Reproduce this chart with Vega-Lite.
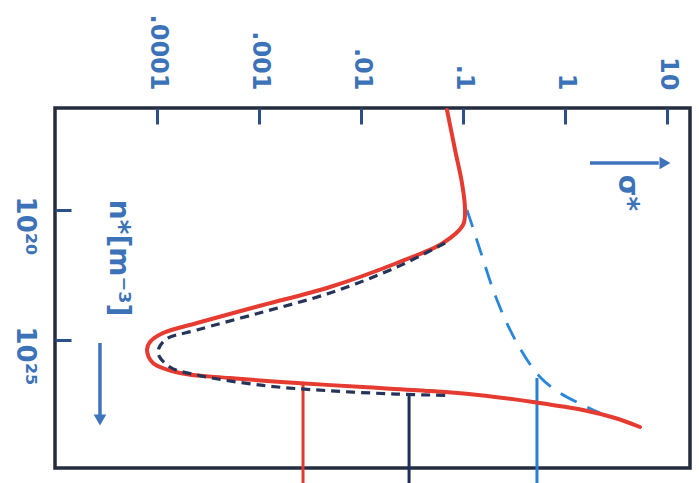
{
  "$schema": "https://vega.github.io/schema/vega-lite/v6.json",
  "width": 635,
  "height": 360,
  "autosize": "none",
  "padding": {"left": 55, "top": 108, "right": 9, "bottom": 15},
  "background": "#ffffff",
  "config": {
    "view": {"stroke": "#262c40", "strokeWidth": 3.5},
    "axis": {
      "domain": false, "grid": false, "title": null,
      "labelFont": "DejaVu Sans", "labelColor": "#3c72b8", "labelFontSize": 24, "labelFontWeight": "bold",
      "tickColor": "#2c4f8a", "tickWidth": 3, "tickSize": -16, "labelFlush": false, "labelOverlap": false
    }
  },
  "datasets": {
    "red": [
      {"i": 1, "s": 0.0697, "n": 1.426e16},
      {"i": 2, "s": 0.0836, "n": 4.92e17},
      {"i": 3, "s": 0.0977, "n": 9.16e18},
      {"i": 4, "s": 0.1047, "n": 1e20},
      {"i": 5, "s": 0.1, "n": 3.78e20},
      {"i": 6, "s": 0.0637, "n": 1.858e21},
      {"i": 7, "s": 0.02254, "n": 1.091e22},
      {"i": 8, "s": 0.004966, "n": 9.16e22},
      {"i": 9, "s": 0.001094, "n": 4.51e23},
      {"i": 10, "s": 0.0002466, "n": 2.218e24},
      {"i": 11, "s": 0.0001146, "n": 5.38e24},
      {"i": 12, "s": 0.0000853, "n": 1.194e25},
      {"i": 13, "s": 0.0000798, "n": 2.427e25},
      {"i": 14, "s": 0.0000914, "n": 7.67e25},
      {"i": 15, "s": 0.0001679, "n": 1.858e26},
      {"i": 16, "s": 0.00052, "n": 2.897e26},
      {"i": 17, "s": 0.00236, "n": 4.51e26},
      {"i": 18, "s": 0.01047, "n": 6.43e26},
      {"i": 19, "s": 0.04742, "n": 9.16e26},
      {"i": 20, "s": 0.1403, "n": 1.303e27},
      {"i": 21, "s": 0.4853, "n": 2.427e27},
      {"i": 22, "s": 1.5, "n": 4.92e27},
      {"i": 23, "s": 3.09, "n": 1e28},
      {"i": 24, "s": 5.43, "n": 2.218e28}
    ],
    "black": [
      {"i": 1, "s": 0.0667, "n": 1.858e21},
      {"i": 2, "s": 0.02254, "n": 1.556e22},
      {"i": 3, "s": 0.004966, "n": 1.556e23},
      {"i": 4, "s": 0.001094, "n": 8.38e23},
      {"i": 5, "s": 0.0002466, "n": 4.12e24},
      {"i": 6, "s": 0.0001197, "n": 1e25},
      {"i": 7, "s": 0.0001023, "n": 3.16e25},
      {"i": 8, "s": 0.0001339, "n": 1.091e26},
      {"i": 9, "s": 0.0002466, "n": 2.218e26},
      {"i": 10, "s": 0.001094, "n": 5.6e26},
      {"i": 11, "s": 0.004966, "n": 9.0e26},
      {"i": 12, "s": 0.02254, "n": 1.2e27},
      {"i": 13, "s": 0.0697, "n": 1.35e27}
    ],
    "blue": [
      {"i": 1, "s": 0.1094, "n": 1e20},
      {"i": 2, "s": 0.1225, "n": 3.78e20},
      {"i": 3, "s": 0.1469, "n": 3.45e21},
      {"i": 4, "s": 0.2153, "n": 2.897e23},
      {"i": 5, "s": 0.338, "n": 1.303e25},
      {"i": 6, "s": 0.5689, "n": 2.649e26},
      {"i": 7, "s": 0.893, "n": 1.091e27},
      {"i": 8, "s": 1.644, "n": 3.776e27},
      {"i": 9, "s": 2.203, "n": 6.43e27}
    ],
    "verticals": [
      {"series": "red", "s": 0.0027, "n": 4.51e26, "n2": 3.16e30},
      {"series": "navy", "s": 0.02958, "n": 1.303e27, "n2": 3.16e30},
      {"series": "blue", "s": 0.531, "n": 2.897e26, "n2": 3.16e30}
    ],
    "labels": [
      {"s": 0.0000415, "n": 7.02e21, "t": "n*[m⁻³]"},
      {"s": 4.05, "n": 2.218e19, "t": "σ*"}
    ],
    "ylabels": [
      {"s": 0.0000068, "n": 1e20, "t": "10²⁰"},
      {"s": 0.0000068, "n": 1e25, "t": "10²⁵"}
    ],
    "arrows": [
      {"s": 0.0000276, "n": 1.303e25, "s2": 0.0000276, "n2": 1.0e28},
      {"s": 1.758, "n": 1.556e18, "s2": 8.3, "n2": 1.556e18}
    ],
    "heads": [
      {"dir": "down", "s": 0.0000276, "n": 1.194e28},
      {"dir": "right", "s": 9.55, "n": 1.556e18}
    ]
  },
  "encoding": {
    "x": {
      "field": "s", "type": "quantitative",
      "scale": {"type": "log", "domain": [0.00001, 16.8], "nice": false},
      "axis": {
        "orient": "top", "values": [0.0001, 0.001, 0.01, 0.1, 1, 10],
        "labelAngle": 90, "labelAlign": "right", "labelBaseline": "middle", "labelPadding": 34,
        "labelExpr": "replace(format(datum.value, '~g'), '0.', '.')"
      }
    },
    "y": {
      "field": "n", "type": "quantitative",
      "scale": {"type": "log", "domain": [1.19e16, 8.38e29], "reverse": true, "nice": false},
      "axis": {"values": [1e20, 1e25], "labels": false}
    }
  },
  "layer": [
    {
      "data": {"name": "blue"},
      "mark": {"type": "line", "color": "#2a86d8", "strokeWidth": 2.8, "strokeDash": [18, 12], "interpolate": "catmull-rom"},
      "encoding": {"order": {"field": "i", "type": "quantitative"}}
    },
    {
      "data": {"name": "verticals"},
      "mark": {"type": "rule", "strokeWidth": 3},
      "encoding": {
        "y2": {"field": "n2"},
        "color": {"field": "series", "type": "nominal", "legend": null,
          "scale": {"domain": ["red", "navy", "blue"], "range": ["#e23a2e", "#1f2d5a", "#2a7fd4"]}}
      }
    },
    {
      "data": {"name": "red"},
      "mark": {"type": "line", "color": "#e53b30", "strokeWidth": 4, "strokeCap": "round", "interpolate": "catmull-rom"},
      "encoding": {"order": {"field": "i", "type": "quantitative"}}
    },
    {
      "data": {"name": "black"},
      "mark": {"type": "line", "color": "#26345a", "strokeWidth": 3.2, "strokeDash": [9, 6], "interpolate": "catmull-rom"},
      "encoding": {"order": {"field": "i", "type": "quantitative"}}
    },
    {
      "data": {"name": "arrows"},
      "mark": {"type": "rule", "color": "#3f74bd", "strokeWidth": 3.5},
      "encoding": {"x2": {"field": "s2"}, "y2": {"field": "n2"}}
    },
    {
      "data": {"name": "heads"},
      "mark": {"type": "point", "filled": true, "opacity": 1, "color": "#3f74bd", "size": 160},
      "encoding": {
        "shape": {"field": "dir", "type": "nominal", "legend": null,
          "scale": {"domain": ["down", "right"], "range": ["triangle-down", "triangle-right"]}}
      }
    },
    {
      "data": {"name": "labels"},
      "mark": {"type": "text", "angle": 90, "align": "center", "baseline": "middle", "font": "DejaVu Sans", "fontSize": 28, "fontWeight": "bold", "color": "#3c72b8"},
      "encoding": {"text": {"field": "t"}}
    },
    {
      "data": {"name": "ylabels"},
      "mark": {"type": "text", "angle": 90, "align": "center", "baseline": "top", "dx": 16, "font": "DejaVu Sans", "fontSize": 26, "fontWeight": "bold", "color": "#3c72b8"},
      "encoding": {"text": {"field": "t"}}
    }
  ]
}
